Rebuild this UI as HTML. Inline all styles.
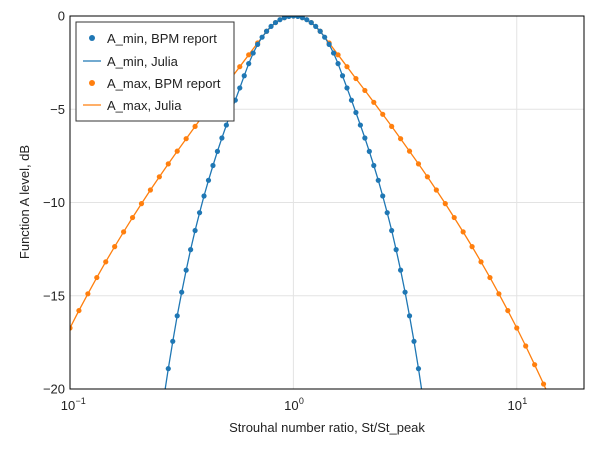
<!DOCTYPE html>
<html><head><meta charset="utf-8"><style>
body{margin:0;background:#fff;}
svg text{font-family:"Liberation Sans",sans-serif;fill:#222;}
</style></head><body>
<svg id="chart" width="600" height="450" xmlns="http://www.w3.org/2000/svg">
<defs><clipPath id="clip"><rect x="70" y="16" width="514" height="373"/></clipPath></defs>
<rect x="0" y="0" width="600" height="450" fill="#fff"/>
<g id="grid"></g>
<g id="series" clip-path="url(#clip)"></g>
<rect x="70" y="16" width="514" height="373" fill="none" stroke="#000" stroke-width="1"/>
<g id="axes"></g>
<text x="327" y="432" text-anchor="middle" font-size="13">Strouhal number ratio, St/St_peak</text>
<text transform="translate(29,202) rotate(-90)" text-anchor="middle" font-size="13">Function A level, dB</text>
<g>
<rect x="76" y="22" width="158" height="99" fill="#fff" stroke="#333" stroke-width="1"/>
<g><circle cx="92" cy="38" r="3" fill="#1f77b4"/><text x="107" y="43" font-size="13">A_min, BPM report</text></g>
<g><line x1="83" y1="61" x2="101" y2="61" stroke="#1f77b4" stroke-width="1.3"/><text x="107" y="66" font-size="13">A_min, Julia</text></g>
<g><circle cx="92" cy="83" r="3" fill="#ff7f0e"/><text x="107" y="88" font-size="13">A_max, BPM report</text></g>
<g><line x1="83" y1="105" x2="101" y2="105" stroke="#ff7f0e" stroke-width="1.3"/><text x="107" y="110" font-size="13">A_max, Julia</text></g>
</g>
</svg>
<script>
const aMinLog = [0,0.02,0.04,0.06,0.08,0.10,0.12,0.14,0.16,0.18,0.20,0.22,0.24,0.26,0.28,0.30,0.32,0.34,0.36,0.38,0.40,0.42,0.44,0.46,0.48,0.50,0.52,0.54,0.56,0.58];
const aMinVals = [0,-0.022,-0.087,-0.197,-0.353,-0.558,-0.818,-1.136,-1.522,-1.988,-2.555,-3.205,-3.859,-4.514,-5.174,-5.848,-6.541,-7.260,-8.015,-8.809,-9.651,-10.546,-11.503,-12.527,-13.627,-14.808,-16.077,-17.442,-18.909,-20.484];
const aMaxLog = [0,0.04,0.08,0.12,0.16,0.20,0.24,0.28,0.32,0.36,0.40,0.44,0.48,0.52,0.56,0.60,0.64,0.68,0.72,0.76,0.80,0.84,0.88,0.92,0.96,1.00,1.04,1.08,1.12,1.16];
const aMaxVals = [0,-0.087,-0.353,-0.818,-1.446,-2.082,-2.718,-3.354,-3.990,-4.628,-5.271,-5.920,-6.579,-7.247,-7.928,-8.622,-9.331,-10.060,-10.807,-11.575,-12.367,-13.182,-14.025,-14.895,-15.796,-16.728,-17.694,-18.696,-19.734,-20.812];
const yTicks = [0,-5,-10,-15,-20];
const yTickLabels = ["0","\u22125","\u221210","\u221215","\u221220"];
const xTickExps = [-1,0,1];

const NS="http://www.w3.org/2000/svg";
const L=70,R=584,T=16,B=389;
const xMinL=-1,xMaxL=Math.log10(20);
const xs=l=>L+(l-xMinL)/(xMaxL-xMinL)*(R-L);
const ys=v=>T+(0-v)/20*(B-T);
function mk(tag,attrs,parent){const e=document.createElementNS(NS,tag);for(const k in attrs)e.setAttribute(k,attrs[k]);parent.appendChild(e);return e;}
const grid=document.getElementById('grid'),axes=document.getElementById('axes'),ser=document.getElementById('series');

yTicks.forEach((v,i)=>{
  const g=mk('line',{x1:L,x2:R,y1:ys(v),y2:ys(v),stroke:'#e3e3e3','stroke-width':1},grid);
  
  
  const t=mk('text',{x:L-5,y:ys(v)+4.5,'text-anchor':'end','font-size':13},axes);
  t.textContent=yTickLabels[i];
  
  
});
xTickExps.forEach(e=>{
  const x=xs(e);
  const g=mk('line',{x1:x,x2:x,y1:T,y2:B,stroke:'#e3e3e3','stroke-width':1},grid);
  
  
  const t=mk('text',{x:x-2,y:B+21,'text-anchor':'middle','font-size':13},axes);
  t.textContent='10';
  
  
  const s=mk('text',{x:x+5.5,y:B+15,'text-anchor':'start','font-size':9},axes);
  s.textContent=(e<0?'\u2212':'')+Math.abs(e);
  
  
});

function pts(logs,vals){
  const p=[];
  for(let i=logs.length-1;i>0;i--)p.push([-logs[i],vals[i]]);
  for(let i=0;i<logs.length;i++)p.push([logs[i],vals[i]]);
  return p;
}
function draw(logs,vals,color,name){
  const p=pts(logs,vals);
  const line=mk('polyline',{points:p.map(q=>xs(q[0]).toFixed(1)+','+ys(q[1]).toFixed(1)).join(' '),fill:'none',stroke:color,'stroke-width':1.3},ser);
  
  
  p.forEach(q=>{
    const c=mk('circle',{cx:xs(q[0]),cy:ys(q[1]),r:2.6,fill:color},ser);
    
    
  });
}
draw(aMaxLog,aMaxVals,'#ff7f0e','amax');
draw(aMinLog,aMinVals,'#1f77b4','amin');
</script>
</body></html>
